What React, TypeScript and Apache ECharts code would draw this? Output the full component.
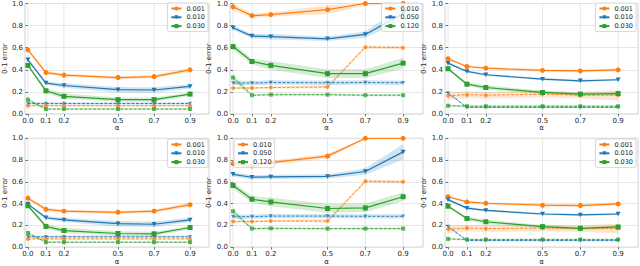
import React, { useEffect, useRef } from "react";
import * as echarts from "echarts";

const ALPHA = [0, 0.1, 0.2, 0.5, 0.7, 0.9];
const X_TICKS = [0, 0.1, 0.2, 0.5, 0.7, 0.9];
const COLORS = ["#ff7f0e", "#1f77b4", "#2ca02c"];

const namesA = ["0.001", "0.010", "0.030"];
const namesB = ["0.010", "0.050", "0.120"];

// Panel 1 (top-left)
const p1Solid = [
  [0.58, 0.375, 0.352, 0.33, 0.338, 0.4],
  [0.49, 0.28, 0.258, 0.22, 0.217, 0.25],
  [0.44, 0.21, 0.16, 0.13, 0.13, 0.18],
];
const p1SolidErr = [
  [0.01, 0.015, 0.015, 0.015, 0.015, 0.02],
  [0.01, 0.015, 0.02, 0.025, 0.025, 0.02],
  [0.01, 0.02, 0.025, 0.02, 0.02, 0.015],
];
const p1Dashed = [
  [0.075, 0.075, 0.075, 0.075, 0.075, 0.075],
  [0.095, 0.095, 0.095, 0.095, 0.095, 0.095],
  [0.13, 0.045, 0.045, 0.045, 0.045, 0.045],
];
const p1DashedErr = [
  [0.006, 0.006, 0.006, 0.006, 0.006, 0.006],
  [0.012, 0.012, 0.012, 0.012, 0.012, 0.012],
  [0.012, 0.008, 0.008, 0.008, 0.008, 0.008],
];

// Panel 2 (top-middle)
const p2Solid = [
  [0.97, 0.89, 0.9, 0.945, 1.0, 1.0],
  [0.78, 0.705, 0.7, 0.68, 0.72, 0.91],
  [0.61, 0.475, 0.44, 0.365, 0.365, 0.46],
];
const p2SolidErr = [
  [0.03, 0.02, 0.02, 0.04, 0.02, 0.0],
  [0.02, 0.02, 0.025, 0.02, 0.03, 0.06],
  [0.03, 0.025, 0.04, 0.04, 0.04, 0.05],
];
const p2Dashed = [
  [0.235, 0.235, 0.24, 0.245, 0.605, 0.6],
  [0.28, 0.28, 0.285, 0.283, 0.285, 0.283],
  [0.33, 0.17, 0.175, 0.175, 0.17, 0.17],
];
const p2DashedErr = [
  [0.01, 0.01, 0.01, 0.015, 0.015, 0.015],
  [0.02, 0.02, 0.02, 0.02, 0.02, 0.02],
  [0.03, 0.01, 0.01, 0.01, 0.01, 0.01],
];

// Panel 3 (top-right)
const p3Solid = [
  [0.5, 0.43, 0.415, 0.395, 0.39, 0.4],
  [0.46, 0.385, 0.355, 0.315, 0.3, 0.31],
  [0.41, 0.27, 0.24, 0.195, 0.18, 0.185],
];
const p3SolidErr = [
  [0.01, 0.01, 0.01, 0.012, 0.012, 0.015],
  [0.01, 0.01, 0.01, 0.01, 0.01, 0.01],
  [0.01, 0.015, 0.02, 0.015, 0.015, 0.015],
];
const p3Dashed = [
  [0.165, 0.175, 0.17, 0.18, 0.17, 0.17],
  [0.19, 0.06, 0.06, 0.06, 0.06, 0.06],
  [0.075, 0.07, 0.07, 0.07, 0.07, 0.07],
];
const p3DashedErr = [
  [0.035, 0.03, 0.03, 0.03, 0.03, 0.045],
  [0.01, 0.006, 0.006, 0.006, 0.006, 0.006],
  [0.008, 0.01, 0.01, 0.01, 0.01, 0.01],
];

// Panel 4 (bottom-left)
const p4Solid = [
  [0.45, 0.347, 0.33, 0.32, 0.33, 0.39],
  [0.395, 0.27, 0.25, 0.215, 0.21, 0.25],
  [0.38, 0.19, 0.152, 0.125, 0.122, 0.18],
];
const p4SolidErr = [
  [0.01, 0.015, 0.015, 0.015, 0.015, 0.02],
  [0.01, 0.015, 0.02, 0.025, 0.025, 0.02],
  [0.01, 0.02, 0.025, 0.02, 0.02, 0.015],
];
const p4Dashed = [
  [0.075, 0.075, 0.075, 0.075, 0.075, 0.075],
  [0.095, 0.095, 0.095, 0.095, 0.095, 0.095],
  [0.13, 0.045, 0.045, 0.045, 0.045, 0.045],
];
const p4DashedErr = [
  [0.006, 0.006, 0.006, 0.006, 0.006, 0.006],
  [0.012, 0.012, 0.012, 0.012, 0.012, 0.012],
  [0.012, 0.008, 0.008, 0.008, 0.008, 0.008],
];

// Panel 5 (bottom-middle)
const p5Solid = [
  [0.767, 0.746, 0.776, 0.836, 1.0, 1.0],
  [0.669, 0.642, 0.645, 0.65, 0.695, 0.875],
  [0.567, 0.44, 0.415, 0.355, 0.36, 0.463],
];
const p5SolidErr = [
  [0.02, 0.02, 0.02, 0.02, 0.01, 0.0],
  [0.02, 0.02, 0.02, 0.02, 0.03, 0.07],
  [0.03, 0.03, 0.04, 0.04, 0.04, 0.04],
];
const p5Dashed = [
  [0.235, 0.235, 0.24, 0.24, 0.605, 0.6],
  [0.28, 0.28, 0.285, 0.285, 0.283, 0.283],
  [0.33, 0.17, 0.172, 0.17, 0.17, 0.17],
];
const p5DashedErr = [
  [0.01, 0.01, 0.01, 0.015, 0.015, 0.015],
  [0.02, 0.02, 0.02, 0.02, 0.02, 0.02],
  [0.03, 0.01, 0.01, 0.01, 0.01, 0.01],
];

// Panel 6 (bottom-right)
const p6Solid = [
  [0.463, 0.415, 0.403, 0.385, 0.382, 0.397],
  [0.436, 0.358, 0.337, 0.304, 0.296, 0.304],
  [0.376, 0.263, 0.233, 0.188, 0.173, 0.185],
];
const p6SolidErr = [
  [0.01, 0.01, 0.01, 0.012, 0.012, 0.015],
  [0.01, 0.01, 0.01, 0.01, 0.01, 0.01],
  [0.01, 0.015, 0.02, 0.015, 0.015, 0.015],
];
const p6Dashed = [
  [0.165, 0.175, 0.17, 0.175, 0.17, 0.17],
  [0.19, 0.06, 0.06, 0.06, 0.06, 0.06],
  [0.075, 0.07, 0.07, 0.07, 0.07, 0.07],
];
const p6DashedErr = [
  [0.035, 0.03, 0.03, 0.03, 0.03, 0.045],
  [0.01, 0.006, 0.006, 0.006, 0.006, 0.006],
  [0.008, 0.01, 0.01, 0.01, 0.01, 0.01],
];

const PANELS = [
  { names: namesA, solid: p1Solid, solidErr: p1SolidErr, dashed: p1Dashed, dashedErr: p1DashedErr },
  { names: namesB, solid: p2Solid, solidErr: p2SolidErr, dashed: p2Dashed, dashedErr: p2DashedErr },
  { names: namesA, solid: p3Solid, solidErr: p3SolidErr, dashed: p3Dashed, dashedErr: p3DashedErr },
  { names: namesA, solid: p4Solid, solidErr: p4SolidErr, dashed: p4Dashed, dashedErr: p4DashedErr },
  { names: namesB, solid: p5Solid, solidErr: p5SolidErr, dashed: p5Dashed, dashedErr: p5DashedErr },
  { names: namesA, solid: p6Solid, solidErr: p6SolidErr, dashed: p6Dashed, dashedErr: p6DashedErr },
];

const GRID_LEFTS = [16, 230, 445];
const GRID_TOPS = [2, 138.3];
const GRID_W = 193;
const GRID_H = 112;
const LEGEND_POS: any[] = [
  { right: 432, top: 3 },
  { right: 218, top: 3 },
  { right: 4, top: 3 },
  { right: 432, top: 139 },
  { left: 234, top: 139 },
  { right: 4, top: 139 },
];

const SYMBOLS = ["circle", "path://M0,0L10,0L5,9Z", "rect"];
const FONT = "DejaVu Sans";
const TEXT_COLOR = "#262626";

function rgba(hex: string, a: number) {
  const n = parseInt(hex.slice(1), 16);
  return `rgba(${(n >> 16) & 255},${(n >> 8) & 255},${n & 255},${a})`;
}

function bandSeries(i: number, mean: number[], err: number[], color: string, alpha: number) {
  const lo = mean.map((m, k) => Math.max(0, m - err[k]));
  const hi = mean.map((m, k) => Math.min(1, m + err[k]));
  return {
    type: "custom",
    xAxisIndex: i,
    yAxisIndex: i,
    silent: true,
    z: 1,
    data: ALPHA.map((a, k) => [a, lo[k], hi[k]]),
    encode: { x: 0, y: [1, 2] },
    renderItem: (params: any, api: any) => {
      if (params.dataIndexInside !== 0) return null;
      const up = ALPHA.map((a, k) => api.coord([a, hi[k]]));
      const dn = ALPHA.map((a, k) => api.coord([a, lo[k]])).reverse();
      return {
        type: "polygon",
        shape: { points: up.concat(dn) },
        style: { fill: rgba(color, alpha) },
      };
    },
  };
}

function vGridSeries(i: number) {
  return {
    type: "custom",
    xAxisIndex: i,
    yAxisIndex: i,
    silent: true,
    z: 0,
    data: X_TICKS.map((x) => [x, 0]),
    encode: { x: 0, y: 1 },
    renderItem: (params: any, api: any) => {
      const x = api.value(0);
      const p0 = api.coord([x, 0]);
      const p1 = api.coord([x, 1]);
      return {
        type: "line",
        shape: { x1: p0[0], y1: p0[1], x2: p1[0], y2: p1[1] },
        style: { stroke: "#e3e3e3", lineWidth: 0.9 },
      };
    },
  };
}

export default function App() {
  const ref = useRef<HTMLDivElement>(null);
  useEffect(() => {
    if (!ref.current) return;
    const chart = echarts.init(ref.current, null, { renderer: "svg" });
    const grids: any[] = [];
    const xAxes: any[] = [];
    const yAxes: any[] = [];
    const legends: any[] = [];
    const series: any[] = [];

    PANELS.forEach((p, i) => {
      const col = i % 3;
      const row = Math.floor(i / 3);
      grids.push({
        left: GRID_LEFTS[col],
        top: GRID_TOPS[row],
        width: GRID_W,
        height: GRID_H,
        show: true,
        borderColor: "#c4c4c4",
        borderWidth: 0.8,
        backgroundColor: "#ffffff",
        containLabel: false,
      });
      xAxes.push({
        type: "value",
        gridIndex: i,
        min: -0.016,
        max: 1.005,
        name: "α",
        nameLocation: "middle",
        nameGap: 9,
        nameTextStyle: { fontSize: 7, fontFamily: FONT, color: TEXT_COLOR },
        axisLine: { show: false },
        splitLine: { show: false },
        axisTick: { show: true, customValues: X_TICKS, length: 2.5, lineStyle: { color: "#444", width: 0.7 } },
        axisLabel: {
          customValues: X_TICKS,
          formatter: (v: number) => v.toFixed(1),
          fontSize: 7,
          fontFamily: FONT,
          color: TEXT_COLOR,
          margin: 3,
        },
      });
      yAxes.push({
        type: "value",
        gridIndex: i,
        min: 0,
        max: 1,
        interval: 0.2,
        name: "0-1 error",
        nameLocation: "middle",
        nameRotate: 90,
        nameGap: 12,
        nameTextStyle: { fontSize: 7, fontFamily: FONT, color: TEXT_COLOR },
        axisLine: { show: false },
        splitLine: { show: true, lineStyle: { color: "#e3e3e3", width: 0.9 } },
        axisTick: { show: true, length: 2.5, lineStyle: { color: "#444", width: 0.7 } },
        axisLabel: {
          formatter: (v: number) => v.toFixed(1),
          fontSize: 7,
          fontFamily: FONT,
          color: TEXT_COLOR,
          margin: 2,
        },
      });
      legends.push({
        orient: "vertical",
        ...LEGEND_POS[i],
        data: p.names.map((n) => ({ name: `${i}|${n}` })),
        formatter: (n: string) => n.split("|")[1],
        itemWidth: 10,
        itemHeight: 5,
        itemGap: 1.8,
        padding: [2, 3, 2, 3],
        backgroundColor: "rgba(255,255,255,0.8)",
        borderColor: "#cccccc",
        borderWidth: 0.8,
        borderRadius: 2,
        selectedMode: false,
        textStyle: { fontSize: 6.5, fontFamily: FONT, color: TEXT_COLOR, lineHeight: 7 },
        z: 10,
      });
      series.push(vGridSeries(i));
      for (let s = 0; s < 3; s++) {
        series.push(bandSeries(i, p.solid[s], p.solidErr[s], COLORS[s], 0.2));
        series.push(bandSeries(i, p.dashed[s], p.dashedErr[s], COLORS[s], 0.2));
      }
      for (let s = 0; s < 3; s++) {
        series.push({
          type: "line",
          name: `${i}|${p.names[s]}`,
          xAxisIndex: i,
          yAxisIndex: i,
          data: ALPHA.map((a, k) => [a, p.solid[s][k]]),
          symbol: SYMBOLS[s],
          symbolSize: 5,
          symbolKeepAspect: true,
          showSymbol: true,
          lineStyle: { color: COLORS[s], width: 1.2 },
          itemStyle: { color: COLORS[s] },
          z: 3,
          silent: true,
        });
        series.push({
          type: "line",
          name: `d${i}|${p.names[s]}`,
          xAxisIndex: i,
          yAxisIndex: i,
          data: ALPHA.map((a, k) => [a, p.dashed[s][k]]),
          symbol: SYMBOLS[s],
          symbolSize: 4,
          symbolKeepAspect: true,
          showSymbol: true,
          lineStyle: { color: COLORS[s], width: 0.9, type: [3, 1.5] },
          itemStyle: { color: COLORS[s], opacity: 0.75 },
          z: 2,
          silent: true,
        });
      }
    });

    chart.setOption({
      animation: false,
      backgroundColor: "#ffffff",
      grid: grids,
      xAxis: xAxes,
      yAxis: yAxes,
      legend: legends,
      series,
    });
    return () => chart.dispose();
  }, []);
  return (
    <div
      ref={ref}
      style={{ position: "absolute", left: 0, top: 0, width: 640, height: 266 }}
    />
  );
}
